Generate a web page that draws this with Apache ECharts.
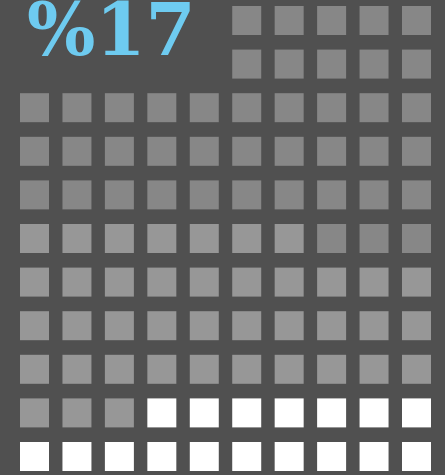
<!DOCTYPE html>
<html>
<head>
<meta charset="utf-8">
<script src="https://cdn.jsdelivr.net/npm/echarts@6/dist/echarts.min.js"></script>
<style>
html,body{margin:0;padding:0;background:#505050;}
#chart{width:445px;height:475px;}
</style>
</head>
<body>
<div id="chart"></div>
<script>
// ---- data ----
const categories = ['Rest', 'Group', 'Share'];
const counts = [43, 40, 17];           // 100 cells total
const colors = ['#878787', '#979797', '#ffffff'];
const gridCols = 10;
const gridRows = 11;
const labelCols = 5;  // top-left area reserved for the label
const labelRows = 2;
const labelPrefix = '%';

// ---- build cells ----
const slots = [];
for (let r = 0; r < gridRows; r++) {
  for (let c = 0; c < gridCols; c++) {
    if (r < labelRows && c < labelCols) continue;
    slots.push({ r: r, c: c, cat: 0 });
  }
}
// share: fill backwards from the last cell
let n = counts[2];
for (let i = slots.length - 1; i >= 0 && n > 0; i--) { slots[i].cat = 2; n--; }
// group: fill from the bottom row upward, left to right
n = counts[1];
for (let r = gridRows - 1; r >= 0 && n > 0; r--) {
  for (let c = 0; c < gridCols && n > 0; c++) {
    const s = slots.find(function (d) { return d.r === r && d.c === c; });
    if (s && s.cat === 0) { s.cat = 1; n--; }
  }
}

const series = categories.map(function (name, k) {
  return {
    type: 'scatter',
    name: name,
    symbol: 'rect',
    symbolSize: 29,
    silent: true,
    itemStyle: { color: colors[k], opacity: 1 },
    data: slots.filter(function (s) { return s.cat === k; }).map(function (s) { return [s.c, s.r]; })
  };
});

const chart = echarts.init(document.getElementById('chart'), null, { renderer: 'canvas' });
chart.setOption({
  backgroundColor: '#505050',
  animation: false,
  grid: { left: 34.5, right: 28.5, top: 20.5, bottom: 18.5 },
  xAxis: { type: 'value', min: 0, max: gridCols - 1, show: false },
  yAxis: { type: 'value', min: 0, max: gridRows - 1, inverse: true, show: false },
  series: series,
  graphic: [{
    type: 'text',
    left: 27,
    top: 0,
    style: {
      text: labelPrefix + counts[2],
      fill: '#6ecbf0',
      font: 'bold 72px "DejaVu Serif"'
    }
  }]
});
</script>
</body>
</html>
